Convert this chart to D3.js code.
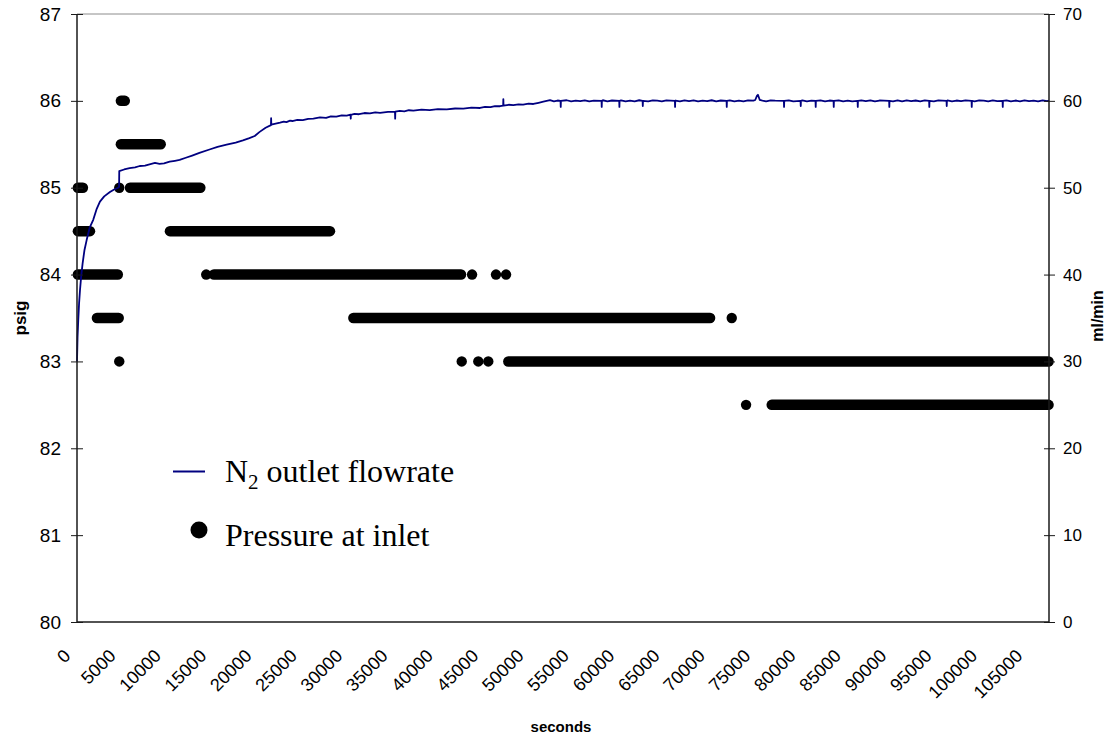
<!DOCTYPE html>
<html>
<head>
<meta charset="utf-8">
<script src="https://cdn.jsdelivr.net/npm/d3@7/dist/d3.min.js"></script>
<style>
  html, body { margin: 0; padding: 0; background: #fff; }
  svg { display: block; }
</style>
</head>
<body>
<svg id="chart" width="1109" height="740"></svg>
<script>
// ---------------- DATA ----------------
const xTickValues = [0, 5000, 10000, 15000, 20000, 25000, 30000, 35000, 40000, 45000, 50000,
  55000, 60000, 65000, 70000, 75000, 80000, 85000, 90000, 95000, 100000, 105000];
const leftTickValues = [80, 81, 82, 83, 84, 85, 86, 87];
const rightTickValues = [0, 10, 20, 30, 40, 50, 60, 70];

// N2 outlet flowrate (ml/min) vs time (s)
const flowTime = [
  0, 60, 140, 230, 330, 470, 620, 820, 1070, 1400, 1790, 2150, 2530, 3000, 3630, 4100, 4540, 4640,
  4660, 5200, 5800, 6400, 6920, 7500, 8000, 8600, 9100, 9600, 10220, 10800, 11320, 12000, 12700,
  13500, 14615, 15500, 16500, 17500, 18300, 19010, 19600, 20110, 20800, 21390, 21410, 21430,
  22390, 22800, 23100, 23500, 23740, 24300, 24900, 25500, 26070, 26800, 27470, 28000, 28600,
  29200, 29750, 30170, 30190, 30210, 30600, 31100, 31700, 32300, 32900, 33420, 34300, 35070,
  35090, 35110, 35600, 36100, 36600, 37100, 38000, 38900, 39800, 40780, 41700, 42600, 43500,
  44450, 45000, 45600, 46100, 46660, 47000, 47020, 47040, 47600, 48120, 48700, 49200, 49800,
  50330, 50900, 51430, 52170, 52600, 53000,
  53330, 53350, 53370, 54000, 54500, 55000, 55500, 56000, 56500, 57000, 57850, 57870, 57890,
  58000, 58500, 59000, 59800, 59820, 59840, 60000, 60500, 61000, 61500, 62000, 62380, 62400,
  62420, 63000, 63500, 64000, 64500, 65000, 65940, 65960, 65980, 66000, 66500, 67000, 67500,
  68000, 68500, 69000, 69500, 70000, 70500, 71000, 71640, 71660, 71680, 72000, 72500, 73000,
  73500, 74000, 74600, 74800, 75000, 75100, 75300, 75600, 76000, 76500, 77000, 77960, 77980,
  78000, 78500, 79000, 79800, 79820, 79840, 80000, 80500, 81000, 81450, 81470, 81490, 82000,
  82500, 83000, 83440, 83460, 83480, 84000, 84500, 85000, 85500, 86090, 86110, 86130, 86500,
  87000, 87500, 88000, 88500, 89000, 89570, 89590, 89610, 90000, 90500, 91000, 91500, 92000,
  92500, 93000, 93500, 93980, 94000, 94020, 94500, 95000, 95900, 95920, 95940, 96000, 96500,
  97000, 97500, 98000, 98660, 98680, 98700, 99000, 99500, 100000, 100500, 101000, 101500,
  102080, 102100, 102120, 102500, 103000, 103500, 104000, 104500, 105000, 105500, 106000,
  106500, 107000, 107200
];
const flowRate = [
  30.0, 32.8, 34.8, 36.7, 38.2, 39.9, 41.3, 42.8, 44.0, 45.4, 46.3, 47.5, 48.4, 49.0, 49.5, 49.8, 50.0, 50.1,
  51.9, 52.1, 52.25, 52.35, 52.5, 52.55, 52.7, 52.85, 52.75, 52.8, 53.0, 53.1, 53.2, 53.45, 53.7,
  54.0, 54.4, 54.7, 54.95, 55.2, 55.45, 55.7, 55.95, 56.4, 56.9, 57.2, 58.0, 57.25,
  57.5, 57.62, 57.55, 57.72, 57.68, 57.82, 57.78, 57.93, 57.96, 58.1, 58.05, 58.22, 58.18,
  58.33, 58.3, 58.42, 57.95, 58.4, 58.5, 58.46, 58.6, 58.55, 58.68, 58.62, 58.74, 58.72,
  57.95, 58.76, 58.84, 58.8, 58.92, 58.87, 58.98, 58.94, 59.05, 59.02, 59.12, 59.1, 59.21,
  59.18, 59.3, 59.27, 59.4, 59.38, 59.45, 60.2, 59.46, 59.55, 59.5, 59.6, 59.57, 59.68,
  59.64, 59.78, 59.9, 60.08, 59.95, 60.04,
  60.0, 59.3, 60.0, 60.07, 59.94, 60.03, 59.96, 60.06, 59.93, 60.02, 60.0, 59.3, 60.0,
  60.07, 59.95, 60.04, 60.0, 59.3, 60.0, 60.06, 59.94, 60.03, 59.95, 60.07, 60.0, 59.4,
  60.0, 59.94, 60.05, 60.02, 59.95, 60.06, 60.0, 59.3, 60.0, 60.04, 59.93, 60.06, 59.97,
  60.05, 59.94, 60.03, 59.96, 60.07, 59.95, 60.04, 60.0, 59.3, 60.0, 60.06, 59.95, 60.03,
  59.94, 60.05, 60.02, 60.1, 60.6, 60.7, 60.1, 60.03, 59.95, 60.06, 60.02, 60.0, 59.3,
  60.0, 60.05, 59.94, 60.0, 59.4, 60.0, 60.06, 59.95, 60.03, 60.0, 59.3, 60.0, 60.05,
  59.94, 60.04, 60.0, 59.3, 60.0, 60.06, 59.95, 60.03, 59.94, 60.0, 59.3, 60.0, 60.05,
  59.96, 60.06, 59.93, 60.04, 60.02, 60.0, 59.3, 60.0, 59.95, 60.06, 59.94, 60.05, 59.96,
  60.04, 59.95, 60.06, 60.0, 59.3, 60.0, 59.94, 60.05, 60.0, 59.4, 60.0, 60.05, 59.94,
  60.04, 59.96, 60.06, 60.0, 59.3, 60.0, 59.95, 60.05, 60.03, 59.94, 60.05, 59.96,
  60.0, 59.3, 60.0, 60.06, 59.94, 60.04, 59.95, 60.06, 59.96, 60.03, 59.94, 60.05,
  59.96, 60.02, 59.95
];

// Pressure at inlet (psig): runs of consecutive readings at one level
const runLevel = [85.0, 85.0, 84.5, 84.5, 84.0, 84.0, 83.5, 83.5, 83.0, 82.5, 85.5, 86.0];
const runStart = [100, 5850, 100, 10250, 100, 15100, 2200, 30480, 47570, 76620, 4840, 4840];
const runEnd   = [650, 13600, 1430, 27900, 4500, 42350, 4600, 69820, 107150, 107150, 9230, 5270];

// Pressure at inlet (psig): isolated readings
const dotTime  = [4660, 4660, 14250, 43570, 46210, 47320, 42430, 44260, 45360, 72210, 73790];
const dotValue = [83.0, 85.0, 84.0, 84.0, 84.0, 84.0, 83.0, 83.0, 83.0, 83.5, 82.5];

// ---------------- CHART ----------------
const svg = d3.select("#chart");
const L = 77, R = 1049, T = 14, B = 622;

const x = d3.scaleLinear().domain([0, 107200]).range([L, R]);
const yL = d3.scaleLinear().domain([80, 87]).range([B, T]);
const yR = d3.scaleLinear().domain([0, 70]).range([B, T]);

const sans = "'Liberation Sans', Arial, sans-serif";
const serif = "'Liberation Serif', 'Times New Roman', serif";

// plot-area top border (grey)
svg.append("line").attr("x1", L).attr("x2", R).attr("y1", T).attr("y2", T)
  .attr("stroke", "#8c8c8c").attr("stroke-width", 1);

// pressure runs
svg.append("g").selectAll("line").data(runLevel.map((v, i) => ({v, s: runStart[i], e: runEnd[i]})))
  .join("line")
  .attr("x1", d => x(d.s)).attr("x2", d => x(d.e))
  .attr("y1", d => yL(d.v)).attr("y2", d => yL(d.v))
  .attr("stroke", "#000").attr("stroke-width", 10.5).attr("stroke-linecap", "round");

// isolated pressure dots
svg.append("g").selectAll("circle").data(dotTime.map((t, i) => ({t, v: dotValue[i]})))
  .join("circle")
  .attr("cx", d => x(d.t)).attr("cy", d => yL(d.v)).attr("r", 5.2).attr("fill", "#000");

// flow line
const lineGen = d3.line().x(d => x(d[0])).y(d => yR(d[1]));
svg.append("path").datum(flowTime.map((t, i) => [t, flowRate[i]]))
  .attr("d", lineGen).attr("fill", "none").attr("stroke", "#000080").attr("stroke-width", 1.8)
  .attr("stroke-linejoin", "round");

// axes
const axisColor = "#1a1a1a";
const gL = svg.append("g").attr("transform", `translate(${L},0)`)
  .call(d3.axisLeft(yL).tickValues(leftTickValues).tickSize(6).tickPadding(10).tickFormat(d3.format("d")));
gL.select(".domain").attr("stroke", axisColor).attr("stroke-width", 1.5).attr("d", `M0,${T}V${B}`);
gL.selectAll(".tick line").attr("x1", 6).attr("x2", -6).attr("stroke", axisColor);
gL.selectAll(".tick text").attr("font-family", sans).attr("font-size", 19).attr("fill", "#000");

const gR = svg.append("g").attr("transform", `translate(${R},0)`)
  .call(d3.axisRight(yR).tickValues(rightTickValues).tickSize(6).tickPadding(8).tickFormat(d3.format("d")));
gR.select(".domain").attr("stroke", axisColor).attr("stroke-width", 1.5).attr("d", `M0,${T}V${B}`);
gR.selectAll(".tick line").attr("x1", -5).attr("x2", 6).attr("stroke", axisColor);
gR.selectAll(".tick text").attr("font-family", sans).attr("font-size", 17).attr("fill", "#000");

const gB = svg.append("g").attr("transform", `translate(0,${B})`)
  .call(d3.axisBottom(x).tickValues(xTickValues).tickSize(0).tickFormat(d3.format("d")));
gB.select(".domain").attr("stroke", axisColor).attr("stroke-width", 1.5).attr("d", `M${L},0H${R}`);
gB.selectAll(".tick text")
  .attr("font-family", sans).attr("font-size", 18).attr("fill", "#000")
  .attr("text-anchor", "end").attr("dy", 0).attr("y", 0)
  .attr("transform", "translate(-6,35) rotate(-45)");

// axis titles
svg.append("text").attr("transform", "translate(20,318) rotate(-90)")
  .attr("text-anchor", "middle").attr("dominant-baseline", "central")
  .attr("font-family", sans).attr("font-weight", "bold").attr("font-size", 17).text("psig");
svg.append("text").attr("transform", "translate(1097,316) rotate(-90)")
  .attr("text-anchor", "middle").attr("dominant-baseline", "central")
  .attr("font-family", sans).attr("font-weight", "bold").attr("font-size", 16).text("ml/min");
svg.append("text").attr("x", 561).attr("y", 732).attr("text-anchor", "middle")
  .attr("font-family", sans).attr("font-weight", "bold").attr("font-size", 15).text("seconds");

// legend
const leg = svg.append("g");
leg.append("line").attr("x1", 173).attr("x2", 205).attr("y1", 471.5).attr("y2", 471.5)
  .attr("stroke", "#000080").attr("stroke-width", 2);
const t1 = leg.append("text").attr("x", 225).attr("y", 482)
  .attr("font-family", serif).attr("font-size", 32).attr("fill", "#000");
t1.append("tspan").text("N");
t1.append("tspan").attr("font-size", 21).attr("dy", 7).text("2");
t1.append("tspan").attr("dy", -7).text(" outlet flowrate");
leg.append("circle").attr("cx", 199).attr("cy", 530).attr("r", 8.5).attr("fill", "#000");
leg.append("text").attr("x", 225).attr("y", 546)
  .attr("font-family", serif).attr("font-size", 32).attr("fill", "#000").text("Pressure at inlet");
</script>
</body>
</html>
